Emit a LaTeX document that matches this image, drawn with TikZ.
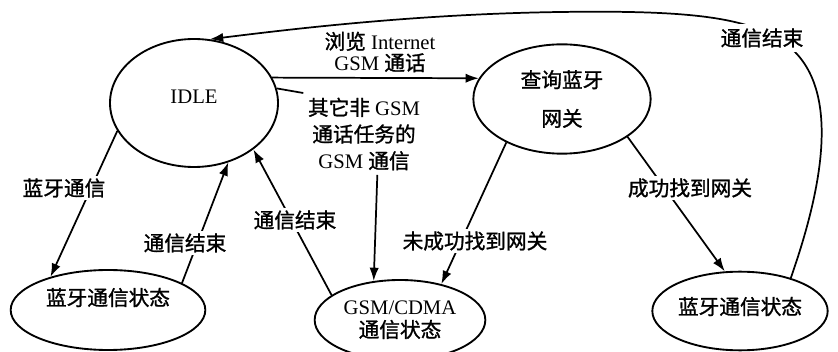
\documentclass[tikz,border=0pt]{standalone}
\usepackage{fontspec}
\setmainfont{Liberation Serif}
\newfontfamily\cjk{Noto Sans CJK SC}[FakeBold=1.2]
\newcommand{\zh}[1]{{\cjk #1}}
\usetikzlibrary{shapes.geometric,arrows.meta}

\begin{document}
\begin{tikzpicture}[x=0.75pt,y=0.75pt,yscale=-1,xscale=1,
  font=\fontsize{15.5}{20}\selectfont,
  state/.style={draw, ellipse, line width=1.4pt, inner sep=0pt},
  trans/.style={line width=1.3pt, -{Latex[length=10pt,width=7pt]}},
  cond/.style={fill=white, inner sep=1.5pt}]
\useasboundingbox (0,0) rectangle (838,352);

% States
\node[state, minimum width=126pt, minimum height=96pt, text depth=10pt] (idle) at (194,103) {IDLE};
\node[state, minimum width=133pt, minimum height=82pt, align=center] (query) at (562,99) {\zh{查询蓝牙}\\[9pt]\zh{网关}};
\node[state, minimum width=146pt, minimum height=60pt, text depth=20pt] (bt1) at (108,310) {\zh{蓝牙通信状态}};
\node[state, minimum width=128pt, minimum height=60pt, align=center] (gsm) at (400,320) {GSM/CDMA\\[-3pt]\zh{通信状态}};
\node[state, minimum width=128pt, minimum height=59pt, text depth=8pt] (bt2) at (740,311) {\zh{蓝牙通信状态}};

% Transitions
\draw[trans] (idle.18) -- (query.166);
\draw[trans] (bt2.33) .. controls (818,200) and (842,100) .. (795,52) .. controls (760,18) and (700,10) .. (560,12) .. controls (420,14) and (300,28) .. (idle.76);
\draw[trans] (query.218) -- (gsm.41);
\draw[trans] (query.-30) -- (bt2.111);
\draw[trans] (idle.200) -- (bt1.150);
\draw[trans] (bt1.20) -- (idle.-60);
\draw[trans] (gsm.160) -- (idle.-38);

% Conditions
\node[align=center] (inet) at (380,52) {\zh{浏览} Internet\\[-4pt]GSM \zh{通话}};
\node[align=center] (othergsm) at (364,134) {\zh{其它非} GSM\\\zh{通话任务的}\\GSM \zh{通信}};
\node[cond] (nofound) at (475,241) {\zh{未成功找到网关}};
\node[cond] (found) at (690,188) {\zh{成功找到网关}};
\node[cond] (btcomm) at (64,188) {\zh{蓝牙通信}};
\node[cond] (end1) at (185,243) {\zh{通信结束}};
\node[cond] (end2) at (295,220) {\zh{通信结束}};
\node[cond, inner sep=3pt] (endtop) at (762,38) {\zh{通信结束}};

\draw[line width=1.3pt] (idle.10) -- (othergsm.north west);
\draw[trans] (othergsm.-72) -- (gsm.124);

\end{tikzpicture}
\end{document}
